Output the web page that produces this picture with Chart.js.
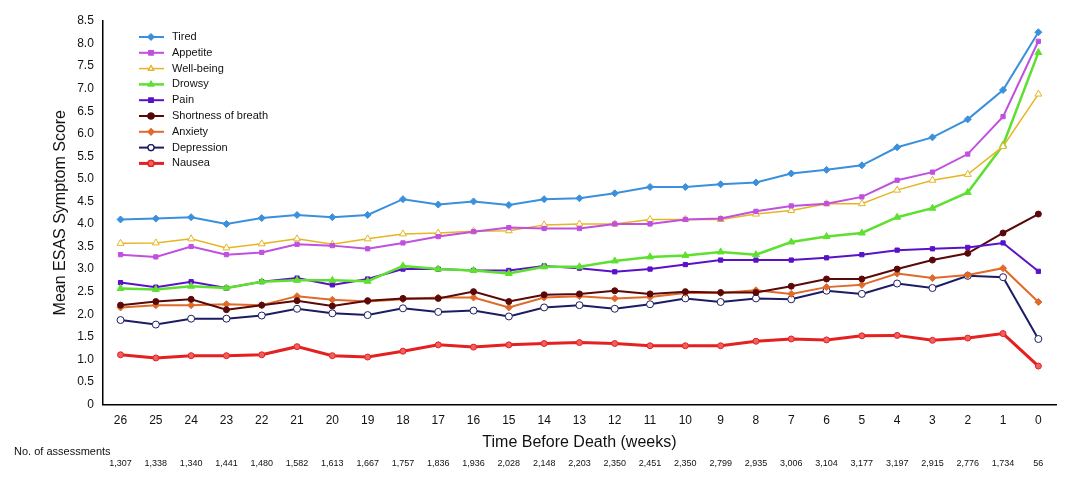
<!DOCTYPE html>
<html><head><meta charset="utf-8">
<script src="https://cdn.jsdelivr.net/npm/chart.js@4"></script>
<style>html,body{margin:0;background:#fff}#wrap{width:1076px;height:480px}</style>
</head><body><div id="wrap"><canvas id="c"></canvas></div>
<script>
const weeks = ['26','25','24','23','22','21','20','19','18','17','16','15','14','13','12','11','10','9','8','7','6','5','4','3','2','1','0'];
const assessments = ['1,307','1,338','1,340','1,441','1,480','1,582','1,613','1,667','1,757','1,836','1,936','2,028','2,148','2,203','2,350','2,451','2,350','2,799','2,935','3,006','3,104','3,177','3,197','2,915','2,776','1,734','56'];
const tired = [4.1,4.12,4.15,4.0,4.13,4.2,4.15,4.2,4.55,4.43,4.5,4.42,4.55,4.57,4.68,4.82,4.82,4.88,4.92,5.12,5.2,5.3,5.7,5.92,6.32,6.97,8.25];
const appetite = [3.32,3.27,3.5,3.32,3.37,3.55,3.52,3.45,3.58,3.72,3.83,3.92,3.9,3.9,4.0,4.0,4.1,4.12,4.28,4.4,4.45,4.6,4.97,5.15,5.55,6.38,8.05];
const wellbeing = [3.57,3.58,3.67,3.47,3.56,3.67,3.55,3.67,3.78,3.8,3.84,3.85,3.98,4.0,4.0,4.1,4.1,4.1,4.22,4.3,4.45,4.45,4.75,4.97,5.1,5.72,6.88];
const drowsy = [2.57,2.55,2.62,2.58,2.72,2.75,2.75,2.73,3.07,3.0,2.97,2.9,3.05,3.05,3.18,3.27,3.3,3.38,3.32,3.6,3.72,3.8,4.15,4.35,4.7,5.75,7.8];
const pain = [2.7,2.6,2.72,2.58,2.72,2.8,2.65,2.78,3.0,3.0,2.97,2.97,3.07,3.02,2.94,3.0,3.1,3.2,3.2,3.2,3.25,3.32,3.42,3.45,3.48,3.58,2.95];
const breath = [2.2,2.28,2.33,2.1,2.2,2.3,2.18,2.3,2.35,2.35,2.5,2.28,2.43,2.45,2.52,2.45,2.5,2.48,2.48,2.62,2.78,2.78,3.0,3.2,3.35,3.8,4.22];
const anxiety = [2.15,2.2,2.2,2.22,2.2,2.4,2.32,2.28,2.33,2.37,2.37,2.15,2.37,2.4,2.35,2.38,2.47,2.47,2.53,2.45,2.6,2.65,2.9,2.8,2.87,3.02,2.27];
const depression = [1.87,1.77,1.9,1.9,1.97,2.12,2.02,1.98,2.13,2.05,2.08,1.95,2.15,2.2,2.12,2.22,2.35,2.27,2.35,2.33,2.52,2.45,2.68,2.58,2.85,2.82,1.45];
const nausea = [1.1,1.03,1.08,1.08,1.1,1.28,1.08,1.05,1.18,1.32,1.27,1.32,1.35,1.37,1.35,1.3,1.3,1.3,1.4,1.45,1.43,1.52,1.53,1.42,1.47,1.57,0.85];

function ds(label, data, color, style, opts) {
    return Object.assign({
        label: label, data: data, borderColor: color, backgroundColor: color,
        pointBorderColor: color, pointBackgroundColor: color,
        pointStyle: style, pointRadius: 3, pointBorderWidth: 1, borderWidth: 2, tension: 0
    }, opts || {});
}

const datasets = [
    ds('Tired', tired, '#3a90dc', 'rectRot', {pointRadius: 3.5}),
    ds('Appetite', appetite, '#c050e0', 'rect'),
    ds('Well-being', wellbeing, '#e6b520', 'triangle', {pointBackgroundColor: '#fff', pointRadius: 4, borderWidth: 1.5}),
    ds('Drowsy', drowsy, '#5ee030', 'triangle', {pointRadius: 4, borderWidth: 2.5}),
    ds('Pain', pain, '#5a12c8', 'rect'),
    ds('Shortness of breath', breath, '#5a0808', 'circle'),
    ds('Anxiety', anxiety, '#e06a2a', 'rectRot', {pointRadius: 3.5}),
    ds('Depression', depression, '#1c1c64', 'circle', {pointBackgroundColor: '#fff', pointRadius: 3.5}),
    ds('Nausea', nausea, '#e42020', 'circle', {pointBackgroundColor: '#f06060', borderWidth: 3})
];

// legend + assessment counts drawn directly
const extras = {
    id: 'extras',
    afterDraw(chart) {
        const ctx = chart.ctx;
        const x = chart.scales.x;
        ctx.save();
        ctx.fillStyle = '#111';
        ctx.font = '11px Arial, "Liberation Sans"';
        ctx.textAlign = 'left';
        ctx.textBaseline = 'middle';
        ctx.fillText('No. of assessments', 14, 452);
        ctx.font = '9px Arial, "Liberation Sans"';
        ctx.textAlign = 'center';
        assessments.forEach((a, i) => ctx.fillText(a, x.getPixelForValue(i), 464));
        ctx.font = '11px Arial, "Liberation Sans"';
        ctx.textAlign = 'left';
        chart.data.datasets.forEach((d, i) => {
            const yy = 37 + i * 15.8;
            ctx.strokeStyle = d.borderColor;
            ctx.lineWidth = d.borderWidth;
            ctx.beginPath(); ctx.moveTo(139, yy); ctx.lineTo(164, yy); ctx.stroke();
            ctx.fillStyle = d.pointBackgroundColor;
            ctx.lineWidth = 1.2;
            Chart.helpers.drawPoint(ctx, {pointStyle: d.pointStyle, radius: 3, borderWidth: 1.2}, 151, yy);
            ctx.fill(); ctx.stroke();
            ctx.fillStyle = '#111';
            ctx.fillText(d.label, 172, yy);
        });
        ctx.restore();
    }
};

new Chart(document.getElementById('c'), {
    type: 'line',
    data: { labels: weeks, datasets: datasets },
    plugins: [extras],
    options: {
        responsive: true,
        maintainAspectRatio: false,
        animation: false,
        layout: { padding: { left: 47, right: 20, top: 21, bottom: 24 } },
        plugins: { legend: { display: false }, tooltip: { enabled: false } },
        scales: {
            x: {
                offset: true,
                grid: { display: false, drawTicks: true, tickLength: 6, color: '#000' },
                border: { color: '#000', width: 1.5 },
                ticks: { color: '#111', font: { size: 12, family: 'Arial, "Liberation Sans"' }, maxRotation: 0, autoSkip: false },
                title: { display: true, text: 'Time Before Death (weeks)', color: '#111', font: { size: 16, family: 'Arial, "Liberation Sans"' }, padding: { top: 2 } }
            },
            y: {
                min: 0, max: 8.5,
                grid: { display: false, drawTicks: true, tickLength: 6, color: '#000' },
                border: { color: '#000', width: 1.5 },
                ticks: {
                    stepSize: 0.5, color: '#111',
                    font: { size: 12, family: 'Arial, "Liberation Sans"' },
                    callback: v => v === 0 ? '0' : v.toFixed(1)
                },
                title: { display: true, text: 'Mean ESAS Symptom Score', color: '#111', font: { size: 16, family: 'Arial, "Liberation Sans"' } }
            }
        }
    }
});
</script></body></html>
